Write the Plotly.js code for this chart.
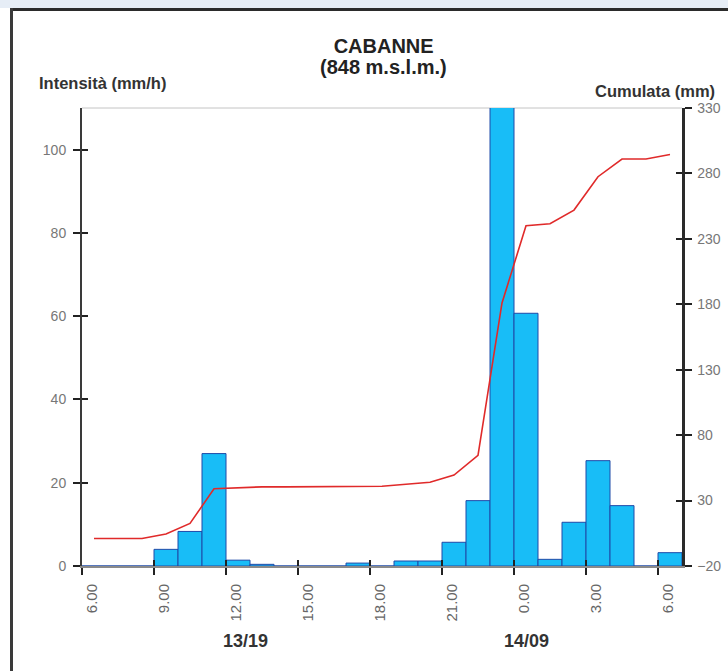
<!DOCTYPE html>
<html>
<head>
<meta charset="utf-8">
<script src="https://cdn.plot.ly/plotly-3.0.1.min.js"></script>
<style>
  html, body { margin: 0; padding: 0; background: #ffffff; }
  #wrap { position: relative; width: 728px; height: 671px; overflow: hidden; }
  #plot { position: absolute; left: 0; top: 0; width: 728px; height: 671px; }
  .deco { position: absolute; pointer-events: none; }
</style>
</head>
<body>
<div id="wrap">
  <div id="plot"></div>
  <div class="deco" style="left:0;top:0;width:728px;height:8px;background:#e6edf6;"></div>
  <div class="deco" style="left:10px;top:8px;width:718px;height:3px;background:#2b2b2b;"></div>
  <div class="deco" style="left:10px;top:8px;width:3px;height:663px;background:#3a3a3a;"></div>
</div>
<script>
// Hour at the start of each one-hour interval (13 Sept 06:00 -> 14 Sept 07:00)
const hourStart = [6,7,8,9,10,11,12,13,14,15,16,17,18,19,20,21,22,23,0,1,2,3,4,5,6];
// Hourly intensity (mm/h)
const intensity = [0,0,0,4,8.3,27,1.4,0.4,0,0,0,0.7,0,1.2,1.2,5.7,15.7,116,60.7,1.6,10.5,25.3,14.5,0,3.2];
// Cumulated rainfall (mm)
const cumulata = [1,1,1,4.5,12.5,39,40,40.5,40.5,40.5,40.5,41,41,42.5,44,49.5,64.5,181,240,241.5,252,277.5,291,291,294.5];
// Tick labels every 3 hours
const tickLabels = ['6.00','9.00','12.00','15.00','18.00','21.00','0.00','3.00','6.00'];
const dayLabels = ['13/19','14/09'];
const leftTicks = [0,20,40,60,80,100];
const rightTicks = [-20,30,80,130,180,230,280,330];

const xc = hourStart.map((h, i) => i + 0.5);
const tickPos = tickLabels.map((t, k) => k * 3);

const bars = {
  type: 'bar',
  x: xc,
  y: intensity,
  width: 1,
  marker: { color: '#18bdf7', line: { color: '#1f4aa8', width: 1 } },
  xaxis: 'x',
  yaxis: 'y',
  hoverinfo: 'skip'
};
const line = {
  type: 'scatter',
  mode: 'lines',
  x: xc,
  y: cumulata,
  line: { color: '#e02a2a', width: 1.6 },
  xaxis: 'x',
  yaxis: 'y2',
  hoverinfo: 'skip'
};
// empty helper traces so the tick-only overlay axes get drawn
const helperA = { type: 'scatter', mode: 'markers', x: [null], y: [null], xaxis: 'x2', yaxis: 'y3',
  marker: { opacity: 0 }, hoverinfo: 'skip' };
const helperB = { type: 'scatter', mode: 'markers', x: [null], y: [null], xaxis: 'x', yaxis: 'y4',
  marker: { opacity: 0 }, hoverinfo: 'skip' };

const FONT = 'Liberation Sans, Arial, sans-serif';

// inner halves of the crossing tick marks
const innerTicks = { showgrid: false, zeroline: false, showline: false, ticks: 'inside',
  ticklen: 6, tickwidth: 2, tickcolor: '#222', showticklabels: false, tickmode: 'array' };

const layout = {
  width: 728,
  height: 671,
  margin: { l: 82, r: 46, t: 108, b: 105 },
  paper_bgcolor: '#ffffff',
  plot_bgcolor: '#ffffff',
  showlegend: false,
  bargap: 0,
  font: { family: FONT, color: '#666' },
  title: {
    text: '<b>CABANNE</b>',
    x: 0.527, xanchor: 'center',
    y: 0.9314, yanchor: 'middle',
    font: { family: FONT, size: 20, color: '#222' }
  },
  xaxis: {
    range: [0, 25],
    showgrid: false,
    zeroline: false,
    showline: true,
    linecolor: '#8a8a8a',
    linewidth: 2,
    ticks: 'outside',
    ticklen: 7,
    tickwidth: 2,
    tickcolor: '#222',
    tickmode: 'array',
    tickvals: tickPos,
    ticktext: tickLabels,
    tickangle: -90,
    ticklabelshift: 10,
    ticklabelstandoff: 3,
    tickfont: { family: FONT, size: 15, color: '#666' }
  },
  xaxis2: Object.assign({}, innerTicks, { overlaying: 'x', anchor: 'y', side: 'bottom',
    range: [0, 25], tickvals: tickPos }),
  yaxis: {
    range: [0, 110],
    showgrid: false,
    zeroline: false,
    showline: true,
    linecolor: '#3a3a3a',
    linewidth: 2,
    ticks: 'outside',
    ticklen: 7,
    tickwidth: 2,
    tickcolor: '#222',
    tickmode: 'array',
    tickvals: leftTicks,
    tickfont: { family: FONT, size: 14, color: '#777' },
    ticklabelstandoff: 4
  },
  yaxis2: {
    overlaying: 'y',
    side: 'right',
    range: [-20, 330],
    showgrid: false,
    zeroline: false,
    showline: true,
    linecolor: '#2a2a2a',
    linewidth: 2.5,
    ticks: 'outside',
    ticklen: 7,
    tickwidth: 2,
    tickcolor: '#222',
    tickmode: 'array',
    tickvals: rightTicks,
    tickfont: { family: FONT, size: 14, color: '#777' },
    ticklabelstandoff: 3
  },
  yaxis3: Object.assign({}, innerTicks, { overlaying: 'y', side: 'left', anchor: 'x',
    range: [0, 110], tickvals: leftTicks }),
  yaxis4: Object.assign({}, innerTicks, { overlaying: 'y', side: 'right', anchor: 'x',
    range: [-20, 330], tickvals: rightTicks }),
  shapes: [
    { type: 'line', xref: 'paper', yref: 'paper', x0: 0, x1: 1, y0: 1, y1: 1, layer: 'below',
      line: { color: '#c4c4c4', width: 1 } }
  ],
  annotations: [
    { text: '<b>(848 m.s.l.m.)</b>', xref: 'paper', yref: 'paper',
      x: 0.502, y: 1.0895, xanchor: 'center', yanchor: 'middle', showarrow: false,
      font: { family: FONT, size: 20, color: '#222' } },
    { text: '<b>Intensità (mm/h)</b>', xref: 'paper', yref: 'paper',
      x: -0.075, y: 1.0546, xanchor: 'left', yanchor: 'middle', showarrow: false,
      font: { family: FONT, size: 16.5, color: '#333' } },
    { text: '<b>Cumulata (mm)</b>', xref: 'paper', yref: 'paper',
      x: 1.058, y: 1.037, xanchor: 'right', yanchor: 'middle', showarrow: false,
      font: { family: FONT, size: 16.5, color: '#333' } },
    { text: '<b>' + dayLabels[0] + '</b>', xref: 'x', yref: 'paper',
      x: 6.83, y: -0.1638, xanchor: 'center', yanchor: 'middle', showarrow: false,
      font: { family: FONT, size: 18, color: '#333' } },
    { text: '<b>' + dayLabels[1] + '</b>', xref: 'x', yref: 'paper',
      x: 18.5, y: -0.1638, xanchor: 'center', yanchor: 'middle', showarrow: false,
      font: { family: FONT, size: 18, color: '#333' } }
  ]
};

Plotly.newPlot('plot', [bars, line, helperA, helperB], layout, { staticPlot: true, displayModeBar: false });
</script>
</body>
</html>
